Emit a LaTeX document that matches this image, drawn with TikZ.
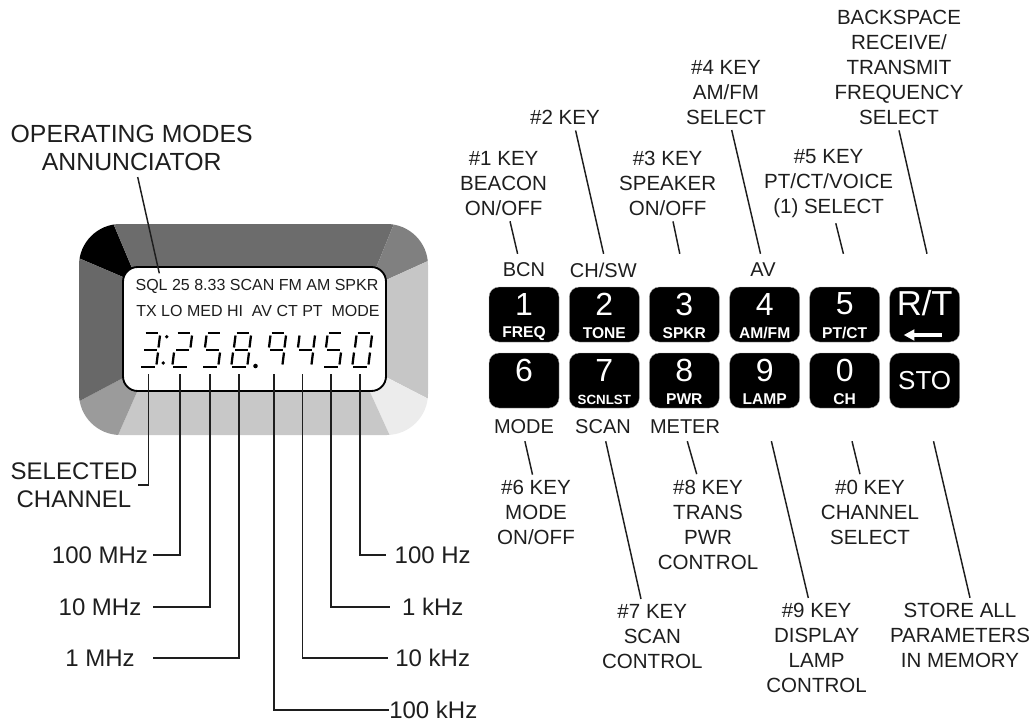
\documentclass[tikz,border=0pt]{standalone}
\usepackage{fontspec}
\setmainfont{Liberation Sans}
\usetikzlibrary{positioning, arrows.meta, calc}
\definecolor{ink}{RGB}{30,30,30}
\definecolor{bezelT}{RGB}{108,108,108}
\definecolor{bezelTR}{RGB}{128,128,128}
\definecolor{bezelR}{RGB}{198,198,198}
\definecolor{bezelBR}{RGB}{236,236,236}
\definecolor{bezelB}{RGB}{200,200,200}
\definecolor{bezelBL}{RGB}{155,155,155}
\definecolor{bezelL}{RGB}{104,104,104}
\tikzset{
  leader/.style={draw=ink, line width=1.1pt},
  lcdseg/.style={draw=black, line width=1.7pt},
  notebig/.style={font=\fontsize{18}{21}\selectfont, text=ink, inner sep=0pt, align=center},
  note/.style={font=\fontsize{15.4}{18.75}\selectfont, text=ink, inner xsep=0pt, inner ysep=4pt, align=center},
  keytag/.style={font=\fontsize{15}{18}\selectfont, text=ink, inner sep=0pt},
  lcdtext/.style={font=\fontsize{12}{14}\selectfont, text=ink, inner sep=0pt},
  keybox/.style={fill=black, draw=gray!70, line width=0.3pt, rounded corners=7.5pt,
                 minimum width=52.5pt, minimum height=41.25pt, inner sep=0pt},
  keynum/.style={font=\fontsize{24}{26}\selectfont, text=white, inner sep=0pt},
  keysub/.style={font=\fontsize{11.7}{13}\selectfont\bfseries, text=white, inner sep=0pt},
}
\newcommand{\scnfont}{\fontsize{10}{12}\selectfont}
% one seven-segment figure, centred on x = #1
\newcommand{\lcddigit}[2]{%
  \begin{scope}[shift={(#1,350)}]
    \coordinate (a1) at (-2.5,-17); \coordinate (a2) at (10,-17);
    \coordinate (b1) at (12,-14.5); \coordinate (b2) at (10.5,-2.5);
    \coordinate (c1) at (10,2.5);   \coordinate (c2) at (8.5,14.5);
    \coordinate (d1) at (-7,17);    \coordinate (d2) at (7,17);
    \coordinate (e1) at (-6,2.5);   \coordinate (e2) at (-7.5,14.5);
    \coordinate (f1) at (-3.5,-14.5); \coordinate (f2) at (-5,-2.5);
    \coordinate (g1) at (-4,0);     \coordinate (g2) at (8.5,0);
    \foreach \s in {#2} \draw[lcdseg] (\s1) -- (\s2);
  \end{scope}}

\begin{document}
\begin{tikzpicture}[x=0.75pt, y=-0.75pt]
  \useasboundingbox (0,0) rectangle (1031,724);
  % bezel facets
  \begin{scope}
    \clip[rounded corners=31pt] (79,224) rectangle (428,435);
    \fill[black] (123,277) -- (55,248) -- (55,204) -- (105,204) -- (132,268) -- cycle;
    \fill[bezelT] (132,268) -- (105,204) -- (402,204) -- (376,268) -- cycle;
    \fill[bezelTR] (376,268) -- (402,204) -- (450,204) -- (450,251) -- (386,280) -- cycle;
    \fill[bezelR] (386,280) -- (450,251) -- (450,410) -- (386,377) -- cycle;
    \fill[bezelBR] (386,377) -- (450,410) -- (450,458) -- (400,458) -- (370,392) -- cycle;
    \fill[bezelB] (370,392) -- (400,458) -- (108,458) -- (137,392) -- cycle;
    \fill[bezelBL] (137,392) -- (108,458) -- (55,458) -- (55,414) -- (123,378) -- cycle;
    \fill[bezelL] (123,378) -- (55,414) -- (55,248) -- (123,277) -- cycle;
  \end{scope}
  % display window
  \draw[draw=black, fill=white, line width=1.4pt, rounded corners=11pt]
    (123,267) rectangle (386,391);
  \node[lcdtext] (annTop) at (257,286.7) {SQL 25 8.33 SCAN FM AM SPKR};
  \node[lcdtext] (annLow) at (258,311) {TX LO MED HI\ \ AV CT PT\ \ MODE};
  % figures of the readout
  \lcddigit{148}{a,b,c,d,g}
  \lcddigit{180}{a,b,d,e,g}
  \lcddigit{210}{a,c,d,f,g}
  \lcddigit{239}{a,b,c,d,e,f,g}
  \lcddigit{274}{a,b,c,f,g}
  \lcddigit{303}{b,c,f,g}
  \lcddigit{331}{a,c,d,f,g}
  \lcddigit{360}{a,b,c,d,e,f}
  \fill[black] (166.7,336.7) circle (1.4pt) (163.3,363) circle (1.4pt) (255.5,366) circle (1.7pt);
  % free ends of the display leaders
  \coordinate (sqlEnd) at (159.3,273.3);
  \foreach \nm/\dx in {ch/148.3, mA/180, mB/210, mC/239, kC/274, kB/302.7, kA/331, hz/360}
    \coordinate (dg\nm) at (\dx,374);
  % display labels
  \node[notebig, font=\fontsize{18.6}{21}\selectfont] (opModes) at (131.7,148) {OPERATING MODES\\ANNUNCIATOR};
  \node[notebig] (selChan) at (74,485) {SELECTED\\CHANNEL};
  \node[notebig, minimum width=78.8pt] (lbmA) at (100,555) {100 MHz};
  \node[notebig, minimum width=78.8pt] (lbmB) at (100,607) {10 MHz};
  \node[notebig, minimum width=78.8pt] (lbmC) at (100,658) {1 MHz};
  \node[notebig, minimum width=69pt] (lbhz) at (432.7,555) {100 Hz};
  \node[notebig, minimum width=64pt] (lbkA) at (432.7,607) {1 kHz};
  \node[notebig, minimum width=67pt] (lbkB) at (432.7,658) {10 kHz};
  \node[notebig, minimum width=66pt] (lbkC) at (433.3,710) {100 kHz};
  \draw[leader] (opModes.south) ++(6,6) -- (sqlEnd);
  \draw[leader] (dgch) |- (selChan.east);
  \foreach \nm in {hz, kA, kB, kC}
    \draw[leader] (dg\nm) |- (lb\nm.west);
  \foreach \nm in {mA, mB, mC}
    \draw[leader] (dg\nm) |- (lb\nm.east);
  % keypad
  \foreach \nm/\kx/\ky/\dig/\sub in {
      1/524/314.5/1/FREQ, 2/604.3/314.5/2/TONE, 3/684.3/314.5/3/SPKR,
      4/764.7/314.5/4/{AM/FM}, 5/844.7/314.5/5/{PT/CT},
      6/524/380.5/6/, 7/604.3/380.5/7/{\scnfont SCNLST}, 8/684.3/380.5/8/PWR,
      9/764.7/380.5/9/LAMP, 0/844.7/380.5/0/CH} {
    \node[keybox] (k\nm) at (\kx,\ky) {};
    \node[keynum] (d\nm) at ($(k\nm.center)+(0,-10.5)$) {\dig};
    \node[keysub] (s\nm) at ($(k\nm.center)+(0,19)$) {\sub};
  }
  % R/T and STO keys
  \node[keybox] (kR) at (924.7,314.5) {};
  \node[keynum, font=\fontsize{26}{28}\selectfont] (dR) at ($(kR.center)+(0,-11)$) {R/T};
  \coordinate (arrR) at ($(kR.center)+(-21,20.5)$);
  \coordinate (arrL) at ($(kR.center)+(17,20.5)$);
  \draw[-{Triangle[length=8pt,width=8pt]}, draw=white, fill=white, line width=2.6pt] (arrL) -- (arrR);
  \node[keybox] (kS) at (924.7,380.5) {};
  \node[keynum, font=\fontsize{19.5}{22}\selectfont] (dS) at (kS.center) {STO};
  % tags next to the keys
  \node[keytag] (tgA) at (524,270) {BCN};
  \node[keytag] (tgB) at (603.3,270) {CH/SW};
  \node[keytag] (tgC) at (763,270) {AV};
  \node[keytag] (tgD) at (524,426.7) {MODE};
  \node[keytag] (tgE) at (603,426.7) {SCAN};
  \node[keytag] (tgF) at (685,426.7) {METER};
  % upper notes
  \node[note] (n1) at (503.6,183.5) {\#1 KEY\\BEACON\\ON/OFF};
  \node[note] (n2) at (565,117.7) {\#2 KEY};
  \node[note] (n3) at (667.6,183.5) {\#3 KEY\\SPEAKER\\ON/OFF};
  \node[note] (n4) at (726,92.3) {\#4 KEY\\AM/FM\\SELECT};
  \node[note] (n5) at (828.6,183.5) {\#5 KEY\\PT/CT/VOICE\\(1) SELECT};
  \node[note] (nR) at (899,67.5) {BACKSPACE\\RECEIVE/\\TRANSMIT\\FREQUENCY\\SELECT};
  % lower notes
  \node[note] (n6) at (536,512.5) {\#6 KEY\\MODE\\ON/OFF};
  \node[note] (n7) at (652.3,636.7) {\#7 KEY\\SCAN\\CONTROL};
  \node[note] (n8) at (708,524.5) {\#8 KEY\\TRANS\\PWR\\CONTROL};
  \node[note] (n9) at (816.6,648.3) {\#9 KEY\\DISPLAY\\LAMP\\CONTROL};
  \node[note] (n0) at (870,512) {\#0 KEY\\CHANNEL\\SELECT};
  \node[note] (nS) at (960,635.7) {STORE ALL\\PARAMETERS\\IN MEMORY};
  % note leaders
  \foreach \nm/\kx/\nx in {1/-6.4/6.4, 2/-0.7/10.6, 3/-4.5/5.4, 4/-4.2/5.7, 5/-1.3/7.2, R/2.3/0}
    \draw[leader] ($(k\nm.north)+(\kx,-33)$) -- ($(n\nm.south)+(\nx,0)$);
  \foreach \nm/\kx/\nx in {6/0.9/-3.5, 7/1.4/-11.3, 8/3/-11.3, 9/6.7/-8.3, 0/7.3/-10, S/8.8/10}
    \draw[leader] ($(k\nm.south)+(\kx,33)$) -- ($(n\nm.north)+(\nx,0)$);
\end{tikzpicture}
\end{document}
